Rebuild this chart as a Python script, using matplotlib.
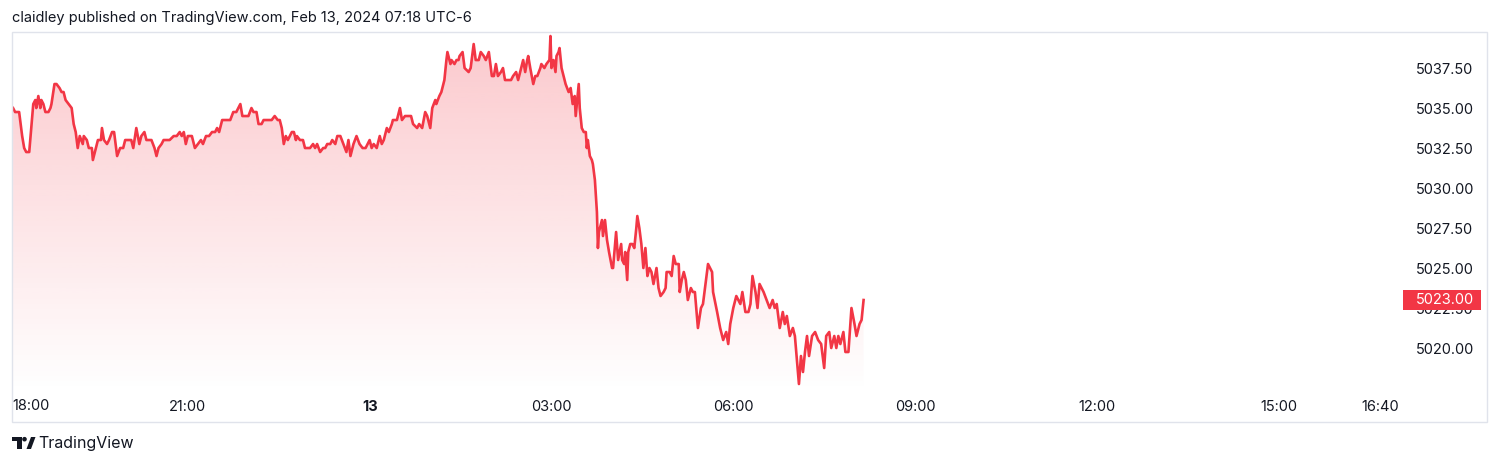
import numpy as np
import matplotlib.pyplot as plt
from matplotlib.patches import Polygon, Rectangle, Circle
from matplotlib.transforms import blended_transform_factory

# minutes after 18:00 (Feb 12) and last price
minutes = [
    7, 9, 11, 13, 16, 18, 20, 23, 25, 27,
    29, 30, 32, 34, 35, 37, 39, 42, 44, 45,
    48, 50, 53, 55, 57, 59, 62, 65, 67, 69,
    71, 73, 76, 77, 80, 82, 85, 86, 89, 91,
    94, 95, 97, 100, 102, 105, 107, 109, 110, 113,
    116, 118, 121, 124, 126, 129, 132, 134, 137, 139,
    142, 144, 147, 149, 151, 154, 156, 159, 162, 166,
    169, 172, 174, 176, 178, 180, 184, 185, 187, 190,
    193, 195, 198, 201, 204, 207, 209, 211, 214, 217,
    220, 222, 225, 228, 232, 234, 238, 240, 243, 245,
    248, 250, 253, 255, 258, 261, 263, 266, 269, 271,
    273, 275, 277, 279, 283, 285, 287, 288, 291, 294,
    296, 301, 304, 306, 308, 311, 314, 316, 318, 321,
    323, 326, 328, 331, 334, 337, 339, 341, 344, 347,
    350, 353, 356, 360, 362, 364, 367, 370, 372, 374,
    377, 379, 382, 383, 387, 390, 392, 395, 398, 401,
    403, 407, 409, 412, 415, 417, 420, 422, 425, 426,
    429, 431, 434, 436, 437, 440, 441, 444, 446, 448,
    449, 452, 454, 458, 460, 463, 465, 468, 470, 473,
    475, 478, 481, 483, 485, 487, 490, 492, 494, 497,
    500, 502, 505, 507, 510, 512, 514, 516, 517, 519,
    522, 524, 526, 529, 530, 533, 535, 538, 539, 540,
    542, 544, 545, 547, 548, 550, 552, 554, 557, 559,
    561, 563, 564, 567, 568, 570, 572, 574, 575, 576,
    578, 580, 581, 583, 585, 586, 587, 590, 591, 593,
    595, 597, 600, 601, 604, 606, 609, 610, 612, 613,
    615, 616, 618, 620, 622, 624, 625, 627, 629, 631,
    633, 635, 637, 639, 641, 644, 646, 648, 651, 653,
    654, 657, 659, 661, 663, 666, 667, 669, 671, 673,
    675, 678, 680, 682, 684, 685, 688, 690, 692, 695,
    699, 700, 704, 707, 710, 713, 715, 717, 720, 723,
    727, 729, 732, 735, 737, 739, 742, 744, 746, 750,
    753, 756, 759, 761, 763, 766, 769, 771, 773, 776,
    779, 781, 783, 785, 787, 789, 791, 793, 795, 798,
    801, 804, 807, 810, 812, 815, 817, 820, 822, 824,
    826, 829, 831, 834, 837, 840, 842, 845, 847, 849,
]

prices = [
    5035.00, 5034.75, 5034.75, 5034.75, 5033.25, 5032.50, 5032.25, 5032.25, 5033.75, 5035.25,
    5035.50, 5035.00, 5035.75, 5035.00, 5035.50, 5035.25, 5034.75, 5034.75, 5035.00, 5035.25,
    5036.50, 5036.50, 5036.25, 5036.00, 5036.00, 5035.50, 5035.25, 5035.00, 5034.00, 5033.50,
    5032.50, 5033.25, 5032.75, 5033.25, 5033.00, 5032.50, 5032.50, 5031.75, 5032.50, 5033.00,
    5033.00, 5033.75, 5033.00, 5032.75, 5033.00, 5033.50, 5033.50, 5032.50, 5032.00, 5032.50,
    5032.50, 5033.00, 5033.00, 5033.00, 5032.50, 5033.75, 5032.75, 5033.25, 5033.50, 5033.00,
    5033.00, 5033.00, 5032.50, 5032.00, 5032.50, 5032.75, 5033.00, 5033.00, 5033.00, 5033.25,
    5033.25, 5033.50, 5033.25, 5033.50, 5032.75, 5033.25, 5033.25, 5033.00, 5032.50, 5032.75,
    5033.00, 5032.75, 5033.25, 5033.25, 5033.50, 5033.50, 5033.75, 5033.50, 5034.25, 5034.25,
    5034.25, 5034.25, 5034.75, 5034.75, 5035.25, 5034.50, 5034.50, 5034.50, 5035.00, 5034.75,
    5034.75, 5034.00, 5034.00, 5034.25, 5034.25, 5034.25, 5034.25, 5034.50, 5034.25, 5034.25,
    5033.75, 5032.75, 5033.25, 5033.00, 5033.50, 5033.50, 5033.00, 5033.25, 5033.00, 5033.00,
    5032.50, 5032.50, 5032.75, 5032.50, 5032.75, 5032.25, 5032.50, 5032.50, 5032.75, 5032.75,
    5033.00, 5032.75, 5033.25, 5033.25, 5032.75, 5032.25, 5033.00, 5032.00, 5032.75, 5033.25,
    5032.75, 5032.50, 5032.50, 5033.00, 5032.50, 5032.75, 5032.50, 5033.25, 5032.75, 5033.00,
    5033.75, 5033.50, 5034.00, 5034.25, 5034.25, 5035.00, 5034.25, 5034.50, 5034.50, 5034.50,
    5034.00, 5033.75, 5034.00, 5033.75, 5034.75, 5034.50, 5033.75, 5035.00, 5035.50, 5035.25,
    5035.75, 5036.00, 5036.75, 5038.00, 5038.50, 5037.75, 5038.00, 5037.75, 5038.00, 5038.00,
    5038.25, 5038.50, 5037.50, 5037.25, 5037.50, 5039.00, 5038.00, 5038.00, 5038.50, 5038.25,
    5038.00, 5038.50, 5037.00, 5037.00, 5037.75, 5037.00, 5037.25, 5037.50, 5036.75, 5036.75,
    5036.75, 5037.00, 5037.25, 5036.75, 5037.50, 5038.00, 5037.25, 5038.00, 5038.25, 5037.50,
    5036.50, 5037.00, 5037.00, 5037.50, 5037.75, 5037.50, 5037.75, 5038.00, 5039.50, 5037.50,
    5038.00, 5037.25, 5038.25, 5038.50, 5038.75, 5037.50, 5037.00, 5036.50, 5036.00, 5036.25,
    5035.25, 5035.75, 5034.50, 5036.50, 5035.00, 5033.75, 5033.50, 5033.50, 5032.50, 5033.00,
    5032.00, 5031.75, 5031.50, 5030.50, 5028.50, 5026.25, 5027.25, 5028.00, 5027.00, 5028.00,
    5026.75, 5026.00, 5025.00, 5025.00, 5027.25, 5025.50, 5026.50, 5025.50, 5025.25, 5026.00,
    5024.25, 5026.00, 5026.50, 5026.50, 5026.25, 5027.50, 5028.25, 5027.50, 5026.50, 5025.00,
    5026.25, 5024.50, 5025.00, 5024.75, 5024.00, 5025.00, 5023.75, 5023.25, 5023.50, 5023.75,
    5024.75, 5024.75, 5024.50, 5025.75, 5025.25, 5025.25, 5023.50, 5024.25, 5024.75, 5024.25,
    5023.00, 5023.75, 5023.50, 5023.50, 5022.00, 5021.25, 5022.50, 5022.75, 5023.75, 5025.25,
    5024.75, 5023.50, 5022.25, 5021.25, 5020.50, 5021.00, 5020.25, 5021.50, 5022.50, 5023.25,
    5022.75, 5023.50, 5022.25, 5022.25, 5022.75, 5024.50, 5023.50, 5022.50, 5024.00, 5023.50,
    5023.00, 5022.50, 5023.00, 5022.50, 5022.75, 5021.25, 5022.25, 5021.50, 5022.00, 5020.75,
    5021.25, 5020.75, 5019.25, 5017.75, 5019.50, 5018.50, 5019.75, 5020.75, 5019.50, 5020.75,
    5021.00, 5020.50, 5020.25, 5018.75, 5020.75, 5021.00, 5020.00, 5020.75, 5020.00, 5020.75,
    5020.25, 5021.00, 5019.75, 5019.75, 5022.50, 5021.50, 5020.75, 5021.50, 5021.75, 5023.00,
]

time_ticks = [180, 360, 540, 720, 900, 1080, 1260, 1360]
time_labels = ["21:00", "13", "03:00", "06:00", "09:00", "12:00", "15:00", "16:40"]
price_ticks = [5020.0, 5022.5, 5025.0, 5027.5, 5030.0, 5032.5, 5035.0, 5037.5]

RED = "#f23645"
TEXT = "#131722"
BORDER = "#e0e3eb"
W, H = 1500, 465
FS = 10.5

plt.rcParams["font.family"] = ["Inter", "DejaVu Sans"]

fig = plt.figure(figsize=(W / 100, H / 100), dpi=100)
fig.patch.set_facecolor("white")


def px(x0, y0, x1, y1):
    # pixel box (y down) -> figure fraction rect
    return [x0 / W, 1 - y1 / H, (x1 - x0) / W, (y1 - y0) / H]


ax = fig.add_axes(px(12, 33, 1405, 392))
ax.set_facecolor("none")
for s in ax.spines.values():
    s.set_visible(False)

t = np.array(minutes, dtype=float)
p = np.array(prices)
ymin, ymax = 5017.25, 5039.69
ax.set_xlim(5.94, 1385)
ax.set_ylim(ymin, ymax)

# gradient area fill under the line
n = 256
rgba = np.zeros((n, 1, 4))
rgba[..., :3] = np.array([242, 54, 69]) / 255
rgba[..., 3] = np.linspace(0.27, 0.0, n).reshape(-1, 1)
im = ax.imshow(rgba, extent=[t[0], t[-1], ymin, p.max()], aspect="auto",
               origin="upper", zorder=1, interpolation="bilinear")
verts = [(t[0], ymin)] + list(zip(t, p)) + [(t[-1], ymin)]
clip = Polygon(verts, facecolor="none", edgecolor="none")
ax.add_patch(clip)
im.set_clip_path(clip)

ax.plot(t, p, color=RED, linewidth=1.9, zorder=3, solid_joinstyle="round")

# axes ticks
ax.set_xticks(time_ticks)
ax.set_xticklabels(time_labels)
for lab in ax.get_xticklabels():
    if lab.get_text() == "13":
        lab.set_fontweight("bold")
ax.set_yticks(price_ticks)
ax.set_yticklabels([f"{v:.2f}" for v in price_ticks])
ax.yaxis.tick_right()
ax.tick_params(axis="both", length=0, labelsize=FS, colors=TEXT)
ax.tick_params(axis="x", pad=6)
ax.tick_params(axis="y", pad=8)
ax.text(0.0, -0.04, "18:00", transform=ax.transAxes, fontsize=FS,
        color=TEXT, ha="left", va="center")

# last price badge
last = p[-1]
tr = blended_transform_factory(fig.transFigure, ax.transData)
ax.add_patch(Rectangle((1403 / W, last - 0.625), 78 / W, 1.25, transform=tr,
                       facecolor=RED, edgecolor="none", clip_on=False, zorder=5))
ax.text(1416 / W, last, f"{last:.2f}", transform=tr, color="white",
        fontsize=FS, ha="left", va="center", clip_on=False, zorder=6)

# overlay for frame and logo (pixel coords)
ov = fig.add_axes([0, 0, 1, 1])
ov.set_xlim(0, W)
ov.set_ylim(H, 0)
ov.axis("off")
ov.patch.set_visible(False)
ov.add_patch(Rectangle((12, 32), 1475, 390, fill=False, edgecolor=BORDER,
                       linewidth=1))

fig.text(12 / W, 1 - 18 / H,
         "claidley published on TradingView.com, Feb 13, 2024 07:18 UTC-6",
         fontsize=10.5, color=TEXT, ha="left", va="center")

# TradingView logo
ov.add_patch(Rectangle((12, 437), 9.5, 4, color=TEXT, linewidth=0))
ov.add_patch(Rectangle((17, 437), 4.5, 12, color=TEXT, linewidth=0))
ov.add_patch(Circle((24.5, 439.2), 2.3, color=TEXT, linewidth=0))
ov.add_patch(Polygon([(26.5, 449), (31, 449), (35.5, 437), (31, 437)],
                     closed=True, color=TEXT, linewidth=0))
fig.text(38 / W, 1 - 443 / H, "TradingView", fontsize=11.5, color=TEXT,
         ha="left", va="center")

fig.savefig("out.png", dpi=100, facecolor="white")
